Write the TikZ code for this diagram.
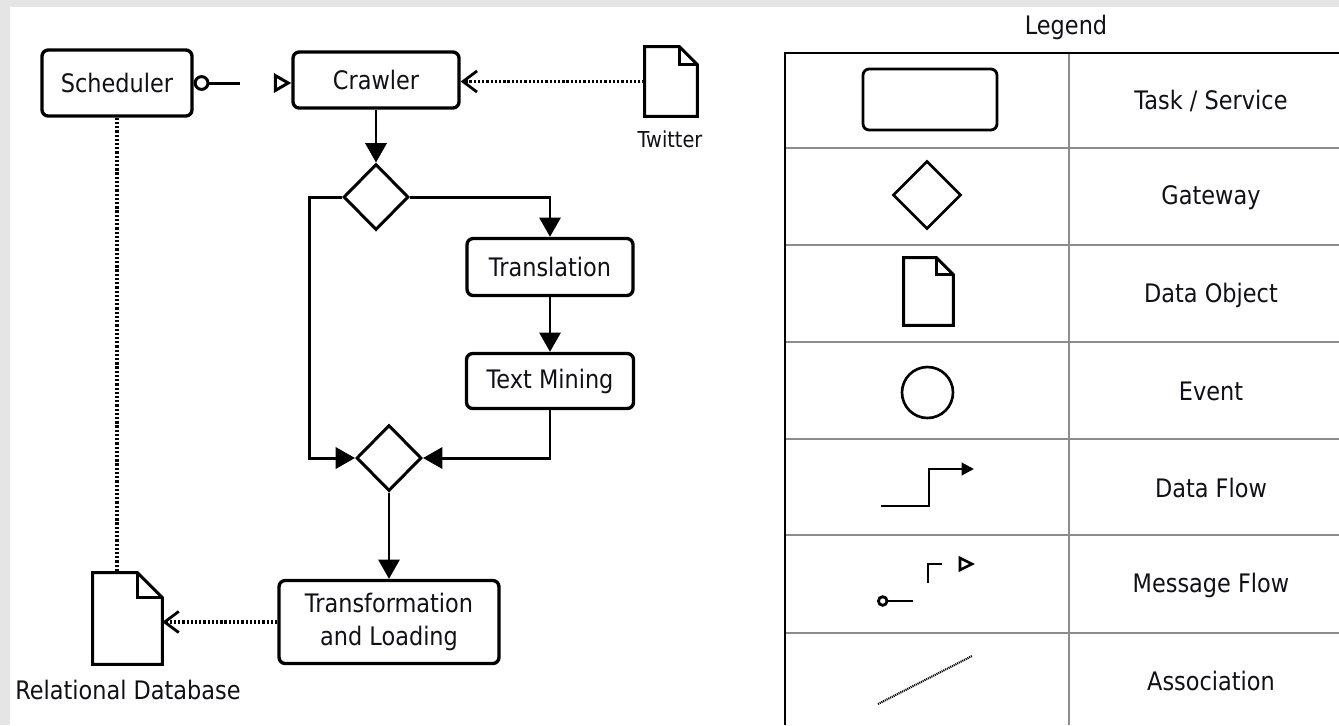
\documentclass[tikz,border=0pt]{standalone}
\usepackage{fontspec}
\setmainfont{DejaVu Sans}[FakeStretch=0.88]
\usepackage{tikz}
\usetikzlibrary{
  positioning, arrows.meta, shapes.geometric, calc
}
\definecolor{flowInk}{HTML}{101018}
\definecolor{gridGray}{HTML}{8C8C8C}
\definecolor{marginGray}{HTML}{E5E5E5}

\begin{document}
\begin{tikzpicture}[
  x=0.02cm, y=-0.02cm,
  every node/.style={font=\fontsize{14.5}{19}\selectfont, text=flowInk},
  task/.style={
    rectangle, rounded corners=3.5pt,
    draw=black, line width=1.9pt, fill=white, align=center
  },
  gateway/.style={
    diamond, draw=black, line width=1.7pt, fill=white,
    minimum width=1.3cm, minimum height=1.32cm, inner sep=0pt
  },
  dataobj/.style={rectangle, inner sep=0pt},
  docline/.style={draw=black, line width=1.7pt, line join=miter},
  flow/.style={draw=black, line width=1.7pt, -{Triangle[length=11pt, width=12pt]}},
  assoc/.style={draw=black, line width=2pt, dash pattern=on 1.3pt off 1.1pt},
  assocarrow/.style={assoc, -{Straight Barb[length=8pt, width=12pt, line width=1.6pt]}},
  msgflow/.style={
    draw=black, line width=1.7pt, dash pattern=on 18pt off 40pt,
    {Circle[open, length=9pt]}-{Triangle[open, length=10pt, width=11pt]}
  },
  gridline/.style={draw=gridGray, line width=1.2pt},
  tableline/.style={draw=black, line width=1.6pt},
]

% Page margins
\fill[marginGray] (0,0) rectangle (1339,725);
\fill[white] (10,7) rectangle (1339,725);
\useasboundingbox (0,0) rectangle (1339,725);

% Process tasks
\node[task, minimum width=3cm, minimum height=1.32cm] (sched) at (117,83) {Scheduler};
\node[task, minimum width=3.32cm, minimum height=1.12cm] (crawl) at (376,80) {Crawler};
\node[task, minimum width=3.32cm, minimum height=1.14cm] (transl) at (550,267) {Translation};
\node[task, minimum width=3.34cm, minimum height=1.1cm] (mining) at (550,381) {Text Mining};
\node[task, minimum width=4.4cm, minimum height=1.66cm] (load) at (389,622) {Transformation\\and Loading};

% Gateways
\node[gateway] (split) at (376,197) {};
\node[gateway] (merge) at (389,458) {};

% Data objects
\node[dataobj, minimum width=1.04cm, minimum height=1.38cm] (twitter) at (671,81.5) {};
\node[font=\fontsize{12.5}{15}\selectfont] (twlabel) at (670,139) {Twitter};
\node[dataobj, minimum width=1.38cm, minimum height=1.82cm] (rdb) at (127.5,618.5) {};
\node (rdblabel) at (128,690) {Relational Database};

% Data flow
\draw[flow] (crawl) -- (split);
\draw[flow] (split.east) -| (transl.north);
\draw[flow] (split.west) -- ++(-33,0) |- (merge.west);
\draw[flow] (transl) -- (mining);
\draw[flow] (mining.south) |- (merge.east);
\draw[flow] (merge) -- (load);

% Message flow
\draw[msgflow] (sched.east) -- (sched.east -| crawl.west);

% Associations
\draw[assocarrow] (twitter.west) -- (twitter.west -| crawl.east);
\draw[assocarrow] (load.west) -- (load.west -| rdb.east);
\draw[assoc] (sched.south) -- (sched.south |- rdb.north);

% Legend table
\node (legendtitle) at (1066,27) {Legend};
\foreach \yy in {148,245,342,439,535,633} {
  \draw[gridline] (785,\yy) -- (1339,\yy);
}
\draw[gridline] (1069,53) -- (1069,725);
\draw[tableline] (785,725) -- (785,53) -- (1339,53);

% Legend symbols
\node[task, minimum width=2.68cm, minimum height=1.22cm, line width=1.6pt] (keytask) at (930,99.5) {};
\node[gateway, minimum width=1.36cm, minimum height=1.36cm, line width=1.5pt] (keygate) at (927,195) {};
\node[dataobj, minimum width=0.98cm, minimum height=1.34cm] (keydoc) at (928.5,291.5) {};
\node[circle, draw=black, line width=1.5pt, minimum size=1.02cm, inner sep=0pt] (keyevent) at (927.5,392.5) {};

\coordinate (keyflowA) at (881,506);
\coordinate (keyflowB) at (974,469);
\draw[line width=1.6pt, -{Triangle[length=7pt, width=7pt]}] (keyflowA) -- (929,506) -- (929,469) -- (keyflowB);

\draw[line width=1.6pt, {Circle[open, length=6.5pt]}-] (877,601) -- (913,601);
\draw[line width=1.6pt] (928,583) -- (928,564) -- (942,564);
\draw[line width=1.5pt] (960,558) -- (972,564) -- (960,570) -- cycle;

\draw[line width=1.2pt, dash pattern=on 0.6pt off 0.5pt] (878,704) -- (972,656);

% Legend labels
\foreach \yy/\txt in {101/{Task / Service}, 198/Gateway, 295/{Data Object}, 391/Event,
  488/{Data Flow}, 585/{Message Flow}, 681/Association} {
  \node (key\yy) at (1211,\yy) {\txt};
}

% Document outlines with folded corner
\foreach \doc/\fold in {twitter/18, rdb/25, keydoc/17} {
  \draw[docline] (\doc.south west) -- (\doc.north west) -- ($(\doc.north east)+(-\fold,0)$)
    -- ($(\doc.north east)+(0,\fold)$) -- (\doc.south east) -- cycle;
  \draw[docline] ($(\doc.north east)+(-\fold,0)$) |- ($(\doc.north east)+(0,\fold)$);
}

\end{tikzpicture}
\end{document}
